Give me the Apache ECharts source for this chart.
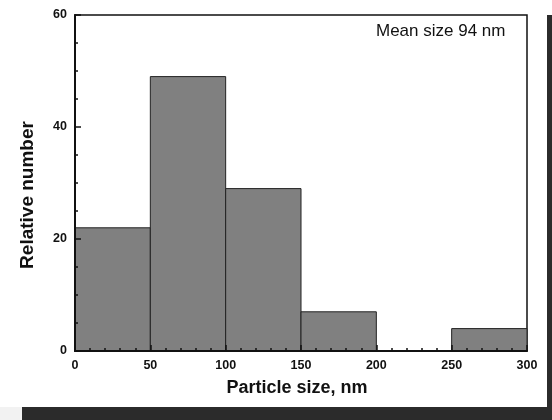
<!DOCTYPE html>
<html>
<head>
<meta charset="utf-8">
<script src="https://cdn.jsdelivr.net/npm/echarts@6/dist/echarts.min.js"></script>
<style>
  html, body { margin: 0; padding: 0; background: #fff; }
  #chart { width: 552px; height: 420px; }
</style>
</head>
<body>
<div id="chart"></div>
<script>
'use strict'
// histogram bins (nm) and counts
const binStart = [0, 50, 100, 150, 200, 250]
const binEnd = [50, 100, 150, 200, 250, 300]
const counts = [22, 49, 29, 7, 0, 4]
const xTicks = [0, 50, 100, 150, 200, 250, 300]
const yTicks = [0, 20, 40, 60]

const font = 'Arial, "Liberation Sans", sans-serif'
const chart = echarts.init(document.getElementById('chart'))

const data = binStart.map((s, i) => [s, binEnd[i], counts[i]])

chart.setOption({
  backgroundColor: '#fff',
  animation: false,
  textStyle: { fontFamily: font },
  grid: {
    left: 75, right: 25, top: 15, bottom: 69,
    show: true, borderColor: '#111', borderWidth: 1.5
  },
  graphic: [
    // dark frame around the picture
    { type: 'rect', shape: { x: 547, y: 15, width: 5, height: 405 }, style: { fill: '#2b2b2b' }, z: 100 },
    { type: 'rect', shape: { x: 22, y: 407, width: 530, height: 13 }, style: { fill: '#2b2b2b' }, z: 100 },
    { type: 'rect', shape: { x: 0, y: 407, width: 22, height: 13 }, style: { fill: '#f2f2f2' }, z: 100 },
    {
      type: 'text', left: 376, top: 23, z: 100,
      style: { text: 'Mean size 94 nm', font: '17px ' + font, fill: '#111' }
    }
  ],
  xAxis: {
    type: 'value', z: 5,
    min: xTicks[0], max: xTicks[xTicks.length - 1], interval: 50,
    name: 'Particle size, nm', nameLocation: 'middle', nameGap: 28,
    nameTextStyle: { fontSize: 18, fontWeight: 'bold', color: '#111', padding: [0, 8, 0, 0] },
    axisLine: { show: true, lineStyle: { color: '#111', width: 2 } },
    axisTick: { inside: true, length: 6, lineStyle: { color: '#111', width: 1.5 } },
    minorTick: { show: true, splitNumber: 5, length: 3, lineStyle: { color: '#111', width: 1.5 } },
    axisLabel: { fontSize: 12.5, fontWeight: 'bold', color: '#111', margin: 8 },
    splitLine: { show: false }
  },
  yAxis: {
    type: 'value', z: 5,
    min: yTicks[0], max: yTicks[yTicks.length - 1], interval: 20,
    name: 'Relative number', nameLocation: 'middle', nameGap: 38,
    nameTextStyle: { fontSize: 19, fontWeight: 'bold', color: '#111', padding: [0, 24, 0, 0] },
    axisLine: { show: true, lineStyle: { color: '#111', width: 2 } },
    axisTick: { inside: true, length: 6, lineStyle: { color: '#111', width: 1.5 } },
    minorTick: { show: true, splitNumber: 4, length: 3, lineStyle: { color: '#111', width: 1.5 } },
    axisLabel: { fontSize: 12.5, fontWeight: 'bold', color: '#111', margin: 8 },
    splitLine: { show: false }
  },
  series: [{
    type: 'custom',
    z: 1,
    data: data,
    encode: { x: [0, 1], y: 2 },
    renderItem: function (params, api) {
      if (api.value(2) <= 0) return
      const p0 = api.coord([api.value(0), api.value(2)])
      const p1 = api.coord([api.value(1), 0])
      return {
        type: 'rect',
        shape: { x: p0[0], y: p0[1], width: p1[0] - p0[0], height: p1[1] - p0[1] },
        style: { fill: '#808080', stroke: '#222', lineWidth: 1 }
      }
    }
  }]
})
</script>
</body>
</html>
